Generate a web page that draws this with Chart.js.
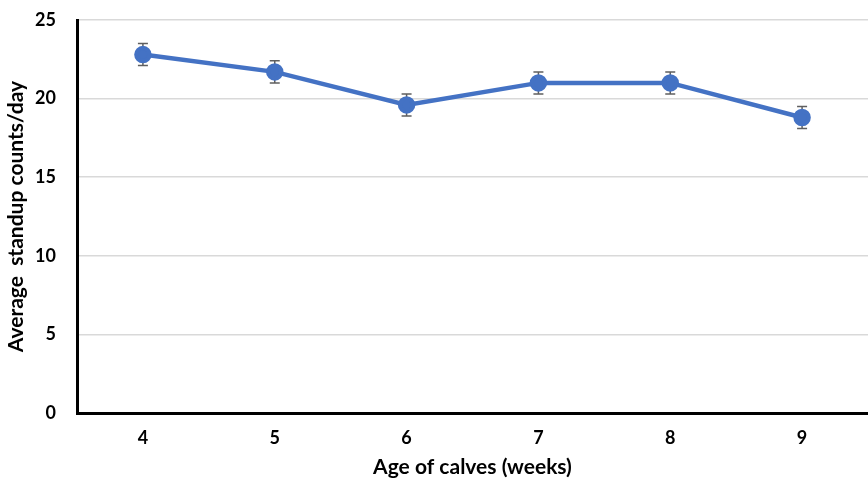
<!DOCTYPE html>
<html>
<head>
<meta charset="utf-8">
<script src="https://cdn.jsdelivr.net/npm/chart.js@4"></script>
<style>
  html, body { margin: 0; padding: 0; background: #fff; }
  #wrap { width: 868px; height: 484px; }
</style>
</head>
<body>
<div id="wrap"><canvas id="myChart" width="868" height="484"></canvas></div>
<script>
// data
const weeks = ['4', '5', '6', '7', '8', '9'];
const standups = [22.8, 21.7, 19.6, 21.0, 21.0, 18.8];
const errors = [0.7, 0.7, 0.7, 0.7, 0.7, 0.7];
const yTicks = [0, 5, 10, 15, 20, 25];

// draws the +/- error bars through the chart's own scales (under the line)
const errorBars = {
  id: 'errorBars',
  beforeDatasetsDraw(chart) {
    const ctx = chart.ctx;
    const xs = chart.scales.x, ys = chart.scales.y;
    ctx.save();
    ctx.strokeStyle = '#5f5f5f';
    ctx.lineWidth = 1.5;
    standups.forEach((v, i) => {
      const x = xs.getPixelForValue(i);
      const top = ys.getPixelForValue(v + errors[i]);
      const bot = ys.getPixelForValue(v - errors[i]);
      ctx.beginPath();
      ctx.moveTo(x, top); ctx.lineTo(x, bot);
      ctx.moveTo(x - 5, top); ctx.lineTo(x + 5, top);
      ctx.moveTo(x - 5, bot); ctx.lineTo(x + 5, bot);
      ctx.stroke();
    });
    ctx.restore();
  }
};

Chart.defaults.font.family = 'Lato, "Open Sans", sans-serif';
Chart.defaults.color = '#000';

new Chart(document.getElementById('myChart').getContext('2d'), {
  type: 'line',
  data: {
    labels: weeks,
    datasets: [{
      label: 'Average standup counts/day',
      data: standups,
      borderColor: '#4472C4',
      backgroundColor: '#4472C4',
      borderWidth: 4.5,
      pointRadius: 6.5,
      pointHoverRadius: 6.5,
      fill: false,
      tension: 0
    }]
  },
  options: {
    responsive: false,
    animation: false,
    layout: { autoPadding: false, padding: { top: 20, right: -4, left: 0, bottom: 0 } },
    plugins: { legend: { display: false }, tooltip: { enabled: false } },
    scales: {
      x: {
        offset: true,
        grid: { display: false, drawTicks: false },
        border: { color: '#000', width: 3 },
        ticks: { font: { size: 18, weight: 'bold' }, padding: 14 },
        title: { display: true, text: 'Age of calves (weeks)', font: { size: 21, weight: 'bold' }, padding: { top: 5 } },
        afterFit(s) { s.height = 71; s.paddingLeft = 0; s.paddingRight = 0; }
      },
      y: {
        min: 0, max: 25,
        afterBuildTicks(s) { s.ticks = yTicks.map(v => ({ value: v })); },
        grid: { color: '#d9d9d9', lineWidth: 1.5, drawTicks: false },
        border: { color: '#000', width: 3 },
        ticks: { font: { size: 18, weight: 'bold' }, padding: 21 },
        title: { display: true, text: 'Average  standup counts/day', font: { size: 21, weight: 'bold' }, padding: { bottom: 2 } },
        afterFit(s) { s.width = 77; s.paddingTop = 0; s.paddingBottom = 0; }
      }
    }
  },
  plugins: [errorBars]
});
</script>
</body>
</html>
